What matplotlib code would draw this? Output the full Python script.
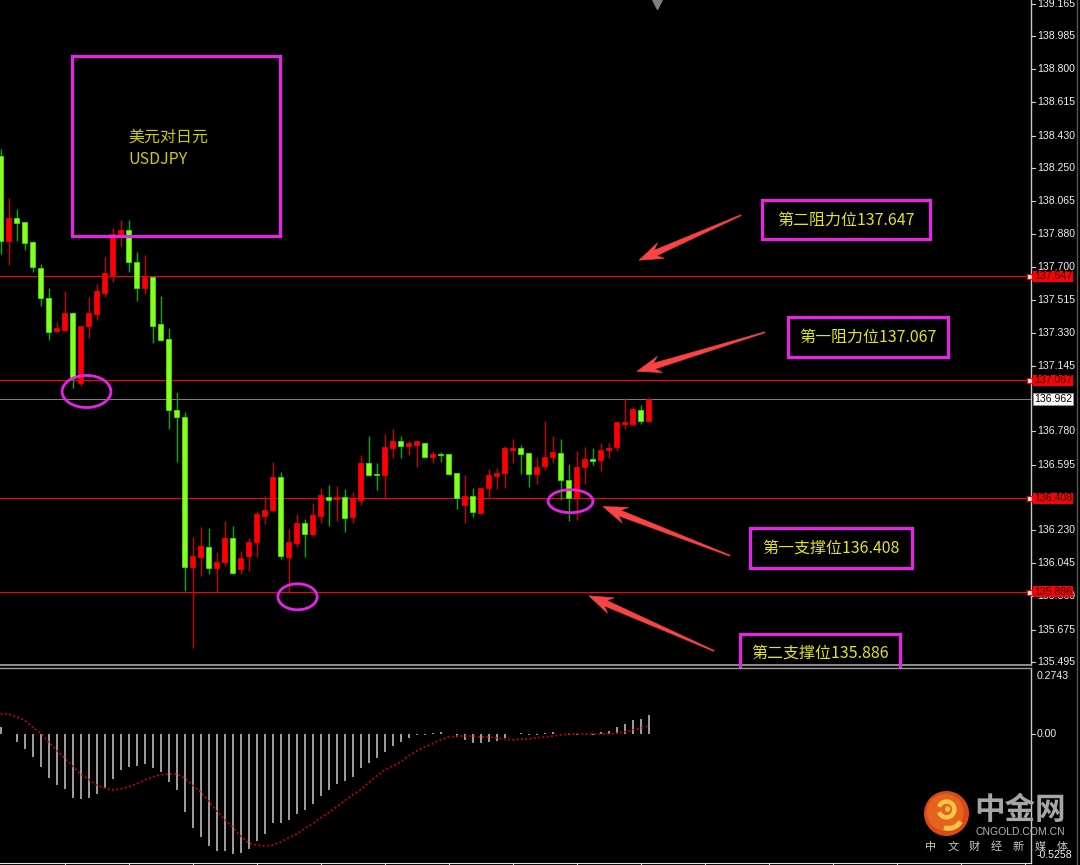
import numpy as np
import matplotlib
matplotlib.use("Agg")
import matplotlib.pyplot as plt
from matplotlib.patches import Rectangle, Ellipse, Polygon, Circle, Wedge
from matplotlib.lines import Line2D
from matplotlib.transforms import blended_transform_factory

# ---------------- data ----------------
opens = [138.316, 137.841, 137.970, 137.947, 137.836, 137.690, 137.523, 137.338, 137.344, 137.439,
         137.053, 137.366, 137.433, 137.551, 137.651, 137.869, 137.903, 137.724, 137.579, 137.640,
         137.377, 137.294, 136.897, 136.858, 136.025, 136.081, 136.137, 136.020, 136.053, 136.187,
         136.014, 136.087, 136.165, 136.310, 136.344, 136.528, 136.081, 136.159, 136.271, 136.210,
         136.310, 136.417, 136.405, 136.417, 136.305, 136.400, 136.606, 136.545, 136.539, 136.690,
         136.729, 136.701, 136.707, 136.718, 136.640, 136.657, 136.657, 136.551, 136.372, 136.422,
         136.327, 136.467, 136.534, 136.551, 136.679, 136.690, 136.662, 136.545, 136.590, 136.640,
         136.662, 136.511, 136.411, 136.584, 136.629, 136.623, 136.679, 136.696, 136.824, 136.824,
         136.902, 136.841]
highs = [138.355, 138.081, 138.020, 137.947, 137.841, 137.713, 137.579, 137.389, 137.562, 137.444,
         137.366, 137.528, 137.601, 137.752, 137.914, 137.958, 137.958, 137.780, 137.763, 137.640,
         137.534, 137.355, 136.998, 136.886, 136.193, 136.249, 136.243, 136.109, 136.282, 136.254,
         136.115, 136.187, 136.338, 136.422, 136.612, 136.556, 136.238, 136.322, 136.294, 136.383,
         136.467, 136.484, 136.478, 136.461, 136.444, 136.646, 136.752, 136.606, 136.768, 136.796,
         136.752, 136.729, 136.729, 136.718, 136.673, 136.668, 136.657, 136.551, 136.539, 136.467,
         136.472, 136.573, 136.579, 136.701, 136.740, 136.707, 136.662, 136.640, 136.841, 136.757,
         136.740, 136.601, 136.673, 136.696, 136.690, 136.718, 136.718, 136.835, 136.964, 136.919,
         136.925, 136.970]
lows = [137.768, 137.707, 137.841, 137.791, 137.668, 137.478, 137.288, 137.333, 137.338, 137.025,
        137.031, 137.299, 137.400, 137.528, 137.612, 137.813, 137.668, 137.506, 137.545, 137.271,
        137.282, 136.796, 136.612, 135.891, 135.573, 135.975, 135.986, 135.886, 136.031, 135.986,
        135.986, 136.003, 136.081, 136.266, 136.333, 136.070, 135.886, 136.137, 136.081, 136.199,
        136.271, 136.254, 136.282, 136.221, 136.271, 136.372, 136.534, 136.456, 136.411, 136.634,
        136.634, 136.651, 136.584, 136.634, 136.606, 136.612, 136.539, 136.349, 136.271, 136.305,
        136.327, 136.405, 136.461, 136.467, 136.606, 136.545, 136.472, 136.489, 136.567, 136.606,
        136.400, 136.282, 136.288, 136.489, 136.595, 136.562, 136.634, 136.673, 136.796, 136.808,
        136.824, 136.835]
closes = [137.841, 137.970, 137.942, 137.830, 137.696, 137.523, 137.333, 137.355, 137.439, 137.076,
          137.366, 137.439, 137.562, 137.662, 137.880, 137.903, 137.724, 137.579, 137.640, 137.366,
          137.288, 136.897, 136.858, 136.025, 136.087, 136.143, 136.020, 136.053, 136.187, 135.992,
          136.076, 136.165, 136.322, 136.344, 136.528, 136.087, 136.165, 136.271, 136.210, 136.316,
          136.428, 136.400, 136.417, 136.299, 136.411, 136.606, 136.539, 136.539, 136.696, 136.729,
          136.701, 136.713, 136.729, 136.640, 136.657, 136.651, 136.545, 136.411, 136.422, 136.333,
          136.467, 136.539, 136.551, 136.690, 136.690, 136.657, 136.545, 136.584, 136.640, 136.668,
          136.511, 136.411, 136.584, 136.629, 136.618, 136.679, 136.690, 136.830, 136.835, 136.908,
          136.841, 136.962]

macd_hist = [0.030, -0.002, -0.035, -0.065, -0.100, -0.143, -0.191, -0.222, -0.239, -0.278,
             -0.283, -0.278, -0.261, -0.235, -0.196, -0.157, -0.143, -0.139, -0.130, -0.148,
             -0.165, -0.209, -0.243, -0.339, -0.409, -0.448, -0.487, -0.509, -0.509, -0.522,
             -0.517, -0.500, -0.465, -0.435, -0.387, -0.387, -0.374, -0.348, -0.330, -0.304,
             -0.270, -0.243, -0.217, -0.204, -0.187, -0.148, -0.126, -0.104, -0.078, -0.052,
             -0.035, -0.017, -0.003, -0.003, 0.003, 0.009, 0.002, -0.013, -0.026, -0.039,
             -0.039, -0.035, -0.030, -0.017, -0.002, 0.004, -0.005, -0.005, 0.005, 0.009,
             0.001, -0.006, -0.003, 0.002, -0.003, 0.009, 0.013, 0.030, 0.043, 0.061,
             0.065, 0.083]
macd_signal = [0.087, 0.087, 0.074, 0.061, 0.030, 0.004, -0.035, -0.070, -0.104, -0.139,
               -0.174, -0.196, -0.222, -0.235, -0.243, -0.239, -0.230, -0.217, -0.200, -0.187,
               -0.178, -0.174, -0.174, -0.191, -0.222, -0.252, -0.291, -0.335, -0.370, -0.404,
               -0.443, -0.474, -0.483, -0.487, -0.483, -0.470, -0.452, -0.435, -0.413, -0.391,
               -0.365, -0.343, -0.317, -0.291, -0.265, -0.243, -0.213, -0.183, -0.157, -0.139,
               -0.122, -0.096, -0.074, -0.057, -0.043, -0.026, -0.013, -0.009, -0.009, -0.009,
               -0.013, -0.013, -0.017, -0.022, -0.026, -0.022, -0.022, -0.017, -0.013, -0.009,
               -0.004, 0.000, 0.000, 0.000, 0.000, 0.000, 0.000, 0.004, 0.009, 0.017,
               0.026, 0.035]

levels = [137.647, 137.067, 136.408, 135.886]
level_names = ["第二阻力位", "第一阻力位", "第一支撑位", "第二支撑位"]
last_price = 136.962
price_ticks = [139.165, 138.985, 138.800, 138.615, 138.430, 138.250, 138.065, 137.880,
               137.700, 137.515, 137.330, 137.145, 136.780, 136.595, 136.230, 136.045,
               135.860, 135.675, 135.495]
macd_ticks = [0.2743, 0.00, -0.5258]
title_lines = ["美元对日元", "USDJPY"]

# ---------------- style ----------------
CJK = ["Noto Sans CJK SC", "DejaVu Sans"]
plt.rcParams["font.family"] = CJK
BG = "#000000"
MAGENTA = "#e822e8"
YELLOW = "#e4e41a"
ARROW_RED = "#f84444"
AXIS_TXT = "#f0f0f0"
AXIS_FS = 7.6
ONE_PX = 0.72  # one pixel at 100 dpi, in points
UP_BODY, UP_WICK = "#ff0000", "#c80000"
DN_BODY, DN_EDGE, DN_WICK = "#86ff24", "#46e000", "#00b000"

W, H = 1080, 865
fig = plt.figure(figsize=(W / 100, H / 100), dpi=100, facecolor=BG)
plot_w = 1031 / W
ax = fig.add_axes([0, 1 - 665 / H, plot_w, 665 / H], facecolor=BG)
ax2 = fig.add_axes([0, 1 - 863 / H, plot_w, (863 - 668) / H], facecolor=BG)

n = len(opens)
idx = np.arange(n)
o, h, l, c = map(np.array, (opens, highs, lows, closes))

XMIN, XMAX = -0.0625, 128.8125
YMIN = 135.4775
PX_PER_UNIT = 179.3
YMAX = YMIN + 665 / PX_PER_UNIT
ax.set_xlim(XMIN, XMAX)
ax.set_ylim(YMIN, YMAX)
ax2.set_xlim(XMIN, XMAX)
ax2.set_ylim(-0.561, 0.287)
ppx = 1 / PX_PER_UNIT  # price per pixel

for a in (ax, ax2):
    a.set_yticks([])
    for s in ("top", "left"):
        a.spines[s].set_visible(False)
    a.spines["right"].set_color("#c8c8c8")
    a.spines["right"].set_linewidth(1.0)
ax.set_xticks([])
ax.spines["bottom"].set_color("#9a9a9a")
ax.spines["bottom"].set_linewidth(1.3)
ax2.spines["top"].set_visible(True)
ax2.spines["top"].set_color("#9a9a9a")
ax2.spines["top"].set_linewidth(1.0)
ax2.spines["bottom"].set_color("#e0e0e0")
ax2.set_xticks(np.arange(8, 129, 8))
ax2.tick_params(axis="x", direction="out", length=2.5, color="#e0e0e0", labelbottom=False)

# ---------------- price levels ----------------
for lv in levels:
    ax.axhline(lv, color="#ff0000", lw=ONE_PX, antialiased=False, zorder=1)
ax.axhline(last_price, color="#7a8088", lw=ONE_PX, antialiased=False, zorder=1)

# ---------------- candles ----------------
up = c >= o
body_lo = np.minimum(o, c)
body_h = np.maximum(np.abs(c - o), 0.006)
ax.vlines(idx[up], l[up], h[up], color=UP_WICK, lw=1.0, zorder=2)
ax.vlines(idx[~up], l[~up], h[~up], color=DN_WICK, lw=1.0, zorder=2)
ax.bar(idx[up], body_h[up], bottom=body_lo[up], width=0.62, color=UP_BODY,
       edgecolor=UP_BODY, linewidth=0.5, zorder=3)
ax.bar(idx[~up], body_h[~up], bottom=body_lo[~up], width=0.62, color=DN_BODY,
       edgecolor=DN_EDGE, linewidth=0.6, zorder=3)

# ---------------- right price scale ----------------
tr = blended_transform_factory(ax.transAxes, ax.transData)
x_lab = 1037 / 1031
for v in price_ticks:
    ax.plot([1.0, 1035 / 1031], [v, v], transform=tr, color="#d0d0d0", lw=0.8, clip_on=False)
    ax.text(x_lab, v, f"{v:.3f}", transform=tr, ha="left", va="center", fontsize=AXIS_FS,
            color=AXIS_TXT, family="Liberation Sans", clip_on=False, zorder=4)

for lv in levels:
    ax.add_patch(Rectangle((1033 / 1031, lv - 5.5 * ppx), 40 / 1031, 11 * ppx, transform=tr,
                           facecolor="#ff0000", edgecolor="none", clip_on=False, zorder=5))
    ax.text(1053 / 1031, lv, f"{lv:.3f}", transform=tr, ha="center", va="center",
            fontsize=AXIS_FS, color="#1a0000", family="Liberation Sans", clip_on=False,
            zorder=6)
    ax.plot([1028.5 / 1031], [lv], transform=tr, marker="s", ms=3.6, mfc="white",
            mec="#ff0000", mew=0.9, clip_on=False, zorder=6)

ax.add_patch(Rectangle((1033 / 1031, last_price - 6 * ppx), 40 / 1031, 12 * ppx, transform=tr,
                       facecolor="white", edgecolor="#909090", lw=0.6, clip_on=False, zorder=5))
ax.text(1053 / 1031, last_price, f"{last_price:.3f}", transform=tr, ha="center", va="center",
        fontsize=AXIS_FS, color="#000000", family="Liberation Sans", clip_on=False, zorder=6)

# chart shift marker
ax.plot([82.0], [0.994], transform=blended_transform_factory(ax.transData, ax.transAxes),
        marker="v", ms=7, color="#7f7f7f", clip_on=False, zorder=6)

# ---------------- title box ----------------
ax.add_patch(Rectangle((8.94, 137.869), 26.0, 138.875 - 137.869, fill=False,
                       edgecolor=MAGENTA, lw=2.3, zorder=6))
ax.text(15.94, 138.422, title_lines[0], ha="left", va="center", fontsize=11.5,
        color="#cccc00", zorder=6)
ax.text(15.94, 138.299, title_lines[1], ha="left", va="center", fontsize=11.5,
        color="#cccc00", zorder=6)

# ---------------- level boxes ----------------
label_boxes = [  # x0, x1, y_top, y_bottom, text x, text y
    (95.19, 116.19, 138.070, 137.852, 105.69, 137.958),
    (98.44, 118.44, 137.417, 137.193, 108.44, 137.305),
    (93.69, 113.94, 136.243, 136.020, 103.81, 136.132),
    (92.44, 112.44, 135.651, 135.456, 102.44, 135.545),
]
for (x0, x1, yt, yb, tx, ty), name, lv in zip(label_boxes, level_names, levels):
    ax.add_patch(Rectangle((x0, yb), x1 - x0, yt - yb, fill=False, edgecolor=MAGENTA,
                           lw=2.3, clip_on=False, zorder=7))
    ax.text(tx, ty, f"{name}{lv:.3f}", ha="center", va="center", fontsize=11.5,
            color=YELLOW, clip_on=False, zorder=7)


# ---------------- arrows ----------------
def tapered_arrow(axis, tail, tip, color):
    T = axis.transData
    p_tail = np.array(T.transform(tail))
    p_tip = np.array(T.transform(tip))
    d = p_tail - p_tip
    u = d / np.hypot(*d)
    nrm = np.array([-u[1], u[0]])
    pts = [p_tip,
           p_tip + u * 24 + nrm * 8.5,
           p_tip + u * 18 + nrm * 3.0,
           p_tail + nrm * 0.5,
           p_tail - nrm * 0.5,
           p_tip + u * 18 - nrm * 3.0,
           p_tip + u * 24 - nrm * 8.5]
    data_pts = T.inverted().transform(np.array(pts))
    axis.add_patch(Polygon(data_pts, closed=True, facecolor=color, edgecolor=color,
                           lw=0.4, zorder=7))


arrows = [((92.56, 137.986), (79.81, 137.735)),
          ((95.56, 137.333), (79.56, 137.115)),
          ((91.19, 136.087), (75.31, 136.361)),
          ((89.19, 135.556), (73.56, 135.863))]
for tail, tip in arrows:
    tapered_arrow(ax, tail, tip, ARROW_RED)

# ---------------- circled areas ----------------
for cx, cy, ew, eh in [(10.75, 137.003, 6.1, 0.179),
                       (37.13, 135.858, 4.9, 0.145),
                       (71.25, 136.391, 5.6, 0.128)]:
    ax.add_patch(Ellipse((cx, cy), ew, eh, fill=False, edgecolor=MAGENTA, lw=2.0, zorder=7))

# ---------------- MACD ----------------
ax2.vlines(idx, 0, macd_hist, color="#cacaca", lw=1.1, zorder=2)
ax2.plot(idx, macd_signal, color="#cc0000", lw=1.2, ls=(0, (1.2, 1.4)), zorder=3)

tr2 = blended_transform_factory(ax2.transAxes, ax2.transData)
for v, va in zip(macd_ticks, ["top", "center", "center"]):
    txt = f"{v:.4f}" if v != 0 else "0.00"
    ax2.text(x_lab, v, txt, transform=tr2, ha="left", va=va, fontsize=AXIS_FS, color=AXIS_TXT,
             family="Liberation Sans", clip_on=False, zorder=8)
ax2.plot([1.0, 1035 / 1031], [0, 0], transform=tr2, color="#d0d0d0", lw=0.8, clip_on=False)

# far-right frame line
fig.add_artist(Line2D([1077 / W, 1077 / W], [0, 1], transform=fig.transFigure,
                      color="#555555", lw=1.0))

# ---------------- watermark ----------------
def fp(x, y):
    return (x / W, 1 - y / H)


logo = fig.add_axes([924 / W, 1 - 836 / H, 45 / W, 45 / H])
logo.set_xlim(-1, 1)
logo.set_ylim(-1, 1)
logo.set_aspect("equal")
logo.axis("off")
logo.patch.set_alpha(0)
logo.add_patch(Circle((0, 0), 1.0, facecolor="#d94a1a", edgecolor="none"))
logo.add_patch(Circle((-0.05, 0.05), 0.82, facecolor="#e5621f", edgecolor="none"))
logo.add_patch(Wedge((0.0, 0.18), 0.45, 200, 520, width=0.2, facecolor="#f6c545"))
logo.add_patch(Wedge((0.1, -0.05), 0.72, 250, 330, width=0.22, facecolor="#f6c545"))
logo.add_patch(Circle((0.05, 0.2), 0.12, facecolor="#f6c545"))

fig.text(*fp(1020, 810), "中金网", ha="center", va="center", fontsize=22, fontweight="bold",
         color="#a6a6a6", family=CJK)
fig.text(*fp(1020, 832), "CNGOLD.COM.CN", ha="center", va="center", fontsize=7.5,
         color="#b4b4b4", family="Liberation Sans")
for i, ch in enumerate("中文财经新媒体"):
    fig.text(*fp(931 + i * 21.8, 847), ch, ha="center", va="center", fontsize=8,
             color="#c8c8c8", family=CJK)

fig.savefig("out.png", dpi=100, facecolor=BG)
